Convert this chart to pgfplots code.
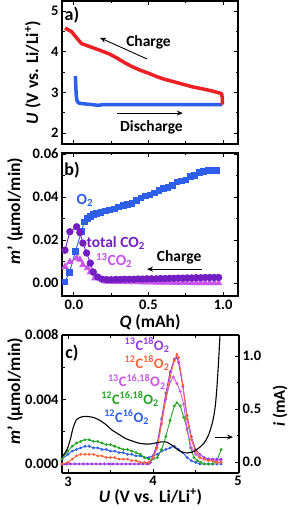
\documentclass[border=0pt]{standalone}
\usepackage{pgfplots}
\pgfplotsset{compat=1.18}
\usepackage{fontspec}
\setmainfont{Carlito}
\usetikzlibrary{arrows.meta}

\definecolor{cRed}{RGB}{236,32,36}
\definecolor{cBlue}{RGB}{45,95,235}
\definecolor{cPurple}{RGB}{115,30,195}
\definecolor{cMag}{RGB}{200,85,235}
\definecolor{cViolet}{RGB}{150,60,230}
\definecolor{cOrange}{RGB}{248,100,60}
\definecolor{cGreen}{RGB}{35,165,35}

\newcommand{\annot}{\fontsize{15.5}{15.5}\selectfont\bfseries}
\newcommand{\clab}{\fontsize{14.5}{14.5}\selectfont\bfseries}

\pgfplotsset{
  base/.style={
    scale only axis,
    axis line style={line width=1.1pt},
    tick align=inside,
    major tick length=4pt,
    minor tick length=2.5pt,
    every tick/.style={line width=0.9pt, black},
    ticklabel style={font=\fontsize{14.5}{14.5}\selectfont\bfseries},
    /pgf/number format/assume math mode=true,
    scaled ticks=false,
    label style={font=\fontsize{17.5}{17.5}\selectfont\bfseries},
    clip mode=individual,
  }
}

\begin{document}
\begin{tikzpicture}
\useasboundingbox (0,0) rectangle (288pt,510pt);

% ---------------- panel a ----------------
\begin{axis}[base, at={(62pt,366pt)}, anchor=south west,
  width=176pt, height=143pt,
  xmin=-0.08, xmax=1.1, ymin=1.73, ymax=5.246,
  xtick={0,0.5,1}, xticklabels={}, minor x tick num=1,
  ytick={2,3,4,5}, minor y tick num=1,
  ylabel={\textit{U} (V vs. Li/Li\textsuperscript{+})},
  ylabel style={at={(axis description cs:-0.165,0.5)}, anchor=center},
]
\addplot[cBlue, line width=3.5pt, line join=round] coordinates {
(0.010,3.40) (0.012,3.20) (0.015,2.95) (0.020,2.80) (0.030,2.74) (0.060,2.72)
(0.120,2.70) (0.160,2.68) (0.200,2.70) (0.400,2.70) (0.600,2.70) (0.800,2.70) (0.995,2.70)
};
\addplot[cRed, line width=3.5pt, line join=round] coordinates {
(0.995,2.70) (0.995,2.85) (0.990,2.97) (0.960,3.00) (0.930,3.03) (0.870,3.08)
(0.800,3.13) (0.730,3.20) (0.670,3.26) (0.600,3.33) (0.560,3.38) (0.500,3.47)
(0.440,3.55) (0.380,3.65) (0.330,3.75) (0.290,3.84) (0.240,3.94) (0.170,4.04)
(0.110,4.12) (0.050,4.20) (0.020,4.33) (0.000,4.42) (-0.015,4.49) (-0.040,4.54) (-0.060,4.58)
};
\draw[-{Stealth[length=6pt,width=5pt]}, line width=0.9pt] (axis cs:0.49,3.82) -- (axis cs:0.175,4.34);
\node[font=\annot] at (axis cs:0.50,4.24) {Charge};
\draw[-{Stealth[length=6pt,width=5pt]}, line width=0.9pt] (axis cs:0.29,2.49) -- (axis cs:0.73,2.49);
\node[font=\annot] at (axis cs:0.52,2.15) {Discharge};
\node[font=\fontsize{18}{18}\selectfont\bfseries] at (axis cs:-0.013,4.9) {a)};
\end{axis}

% ---------------- panel b ----------------
\begin{axis}[base, at={(62pt,214pt)}, anchor=south west,
  width=176pt, height=143pt,
  xmin=-0.08, xmax=1.1, ymin=-0.006, ymax=0.0605,
  xtick={0,0.5,1}, minor x tick num=1,
  ytick={0,0.02,0.04,0.06}, minor y tick num=1,
  xticklabel style={/pgf/number format/.cd, fixed, fixed zerofill, precision=1},
  yticklabel style={/pgf/number format/.cd, fixed, fixed zerofill, precision=2},
  xlabel={\textit{Q} (mAh)},
  xlabel style={at={(axis description cs:0.5,-0.182)}, anchor=center},
  ylabel={\textit{m}' (μmol/min)},
  ylabel style={at={(axis description cs:-0.267,0.594)}, anchor=center},
]
\addplot[cBlue, line width=0.9pt, mark=square*, mark size=2.8pt] coordinates {
(-0.06,0.0005) (-0.03,0.005) (0.01,0.0146) (0.05,0.024) (0.07,0.0285) (0.09,0.030)
(0.11,0.031) (0.13,0.032) (0.15,0.0325) (0.18,0.0328) (0.21,0.0335) (0.24,0.034)
(0.27,0.0345) (0.30,0.0355) (0.33,0.036) (0.36,0.0365) (0.39,0.037) (0.42,0.0385)
(0.45,0.0395) (0.48,0.0405) (0.51,0.041) (0.54,0.042) (0.57,0.043) (0.60,0.044)
(0.63,0.0445) (0.66,0.0455) (0.69,0.047) (0.72,0.0475) (0.75,0.048) (0.78,0.0495)
(0.81,0.050) (0.84,0.0515) (0.87,0.052) (0.90,0.0525) (0.93,0.0525) (0.96,0.0525)
};
\addplot[cMag, line width=0.9pt, mark=triangle*, mark size=3.4pt] coordinates {
(-0.06,0.0076) (-0.027,0.0099) (0.018,0.0116) (0.04,0.011) (0.06,0.0084) (0.09,0.007)
(0.11,0.0051) (0.14,0.0023) (0.19,0.0014) (0.22,0.0008) (0.25,0.0007) (0.28,0.0006)
(0.31,0.0006) (0.34,0.0006) (0.37,0.0005) (0.40,0.0005) (0.43,0.0005) (0.46,0.0004)
(0.49,0.0004) (0.52,0.0004) (0.55,0.0003) (0.58,0.0003) (0.61,0.0003) (0.64,0.0003)
(0.67,0.0002) (0.70,0.0002) (0.73,0.0002) (0.76,0.0002) (0.79,0.0001) (0.82,0.0001)
(0.85,0.0001) (0.88,0.0001) (0.91,0.0000) (0.94,0.0000) (0.97,0.0000)
};
\addplot[cPurple, line width=0.9pt, mark=*, mark size=3.2pt] coordinates {
(-0.06,0.0153) (-0.027,0.0239) (0.018,0.0262) (0.04,0.0235) (0.06,0.0186) (0.085,0.014)
(0.11,0.0093) (0.13,0.0051) (0.16,0.0028) (0.19,0.0018) (0.22,0.0016) (0.25,0.0016)
(0.28,0.0017) (0.31,0.0017) (0.34,0.0018) (0.37,0.0018) (0.40,0.0018) (0.43,0.0019)
(0.46,0.0019) (0.49,0.0020) (0.52,0.0020) (0.55,0.0020) (0.58,0.0021) (0.61,0.0021)
(0.64,0.0022) (0.67,0.0022) (0.70,0.0023) (0.73,0.0023) (0.76,0.0024) (0.79,0.0024)
(0.82,0.0025) (0.85,0.0025) (0.88,0.0026) (0.91,0.0026) (0.94,0.0026) (0.97,0.0026)
};
\node[font=\annot, text=cBlue] at (axis cs:0.074,0.0386) {O\textsubscript{2}};
\node[font=\annot, text=cPurple] at (axis cs:0.28,0.0188) {total CO\textsubscript{2}};
\node[font=\annot, text=cMag] at (axis cs:0.27,0.0106) {\textsuperscript{13}CO\textsubscript{2}};
\node[font=\annot] at (axis cs:0.705,0.0118) {Charge};
\draw[-{Stealth[length=6pt,width=5pt]}, line width=0.9pt] (axis cs:0.86,0.0065) -- (axis cs:0.49,0.0065);
\node[font=\fontsize{18}{18}\selectfont\bfseries] at (axis cs:-0.013,0.0526) {b)};
\end{axis}

% ---------------- panel c ----------------
\begin{axis}[base, at={(62pt,37pt)}, anchor=south west,
  width=177pt, height=138pt,
  xmin=2.93, xmax=5.01, ymin=-0.00056, ymax=0.008,
  axis y line*=left,
  xtick={3,4,5}, minor x tick num=1,
  ytick={0,0.004,0.008}, minor y tick num=1,
  yticklabel style={/pgf/number format/.cd, fixed, fixed zerofill, precision=3},
  xlabel={\textit{U} (V vs. Li/Li\textsuperscript{+})},
  xlabel style={at={(axis description cs:0.5,-0.174)}, anchor=center},
  ylabel={\textit{m}' (μmol/min)},
  ylabel style={at={(axis description cs:-0.266,0.594)}, anchor=center},
  every axis plot/.append style={line width=0.9pt, mark=*, mark size=0.9pt},
]
\addplot[cBlue] coordinates {
(2.93,0.0003) (3.00,0.0006) (3.05,0.0008) (3.10,0.0009) (3.15,0.0010) (3.20,0.0011)
(3.25,0.0011) (3.30,0.0010) (3.35,0.0010) (3.40,0.0009) (3.45,0.0009) (3.50,0.0008)
(3.55,0.0008) (3.60,0.0007) (3.65,0.0007) (3.70,0.0006) (3.75,0.0006) (3.80,0.0005)
(3.85,0.0005) (3.90,0.0004) (3.95,0.0004) (4.00,0.0005) (4.05,0.0006) (4.10,0.0008)
(4.15,0.0009) (4.20,0.0010) (4.25,0.0011) (4.30,0.0009) (4.35,0.0007) (4.40,0.0004)
(4.45,0.0002) (4.50,0.0001) (4.55,0.0000) (4.60,0.0000) (4.65,0.0000) (4.70,0.0000)
(4.75,0.0000) (4.80,0.0000)
};
\addplot[cGreen] coordinates {
(2.93,0.0003) (3.00,0.0008) (3.05,0.0011) (3.10,0.0013) (3.15,0.0014) (3.20,0.0015)
(3.25,0.0015) (3.30,0.0014) (3.35,0.0014) (3.40,0.0013) (3.45,0.0012) (3.50,0.0012)
(3.55,0.0011) (3.60,0.0010) (3.65,0.0009) (3.70,0.0009) (3.75,0.0008) (3.80,0.0007)
(3.85,0.0006) (3.90,0.0004) (3.95,0.0003) (4.00,0.0003) (4.05,0.0004) (4.10,0.0009)
(4.15,0.0017) (4.20,0.0027) (4.25,0.0036) (4.28,0.0038) (4.32,0.0036) (4.36,0.0029)
(4.40,0.0022) (4.44,0.0010) (4.48,0.0004) (4.52,0.0002) (4.56,0.0001) (4.60,0.0000)
(4.65,0.0000) (4.70,0.0000) (4.75,0.0002) (4.80,0.0009)
};
\addplot[cMag] coordinates {
(2.93,0.0000) (3.00,0.0000) (3.50,0.0000) (3.95,0.0000) (4.00,0.0004) (4.05,0.0012)
(4.10,0.0025) (4.15,0.0040) (4.20,0.0051) (4.24,0.0054) (4.28,0.0050) (4.32,0.0045)
(4.36,0.0037) (4.40,0.0021) (4.45,0.0010) (4.50,0.0006) (4.55,0.0004) (4.60,0.0003)
(4.65,0.0003) (4.70,0.0002) (4.75,0.0002) (4.80,0.0002)
};
\addplot[cViolet] coordinates {
(2.93,0) (2.98,0) (3.03,0) (3.08,0) (3.13,0) (3.18,0) (3.23,0) (3.28,0) (3.33,0)
(3.38,0) (3.43,0) (3.48,0) (3.53,0) (3.58,0) (3.63,0) (3.68,0) (3.73,0) (3.78,0)
(3.83,0) (3.88,0) (3.93,0) (3.97,0.0001)
(4.00,0.0005) (4.05,0.0013) (4.10,0.0028) (4.15,0.0044) (4.20,0.0057) (4.25,0.0065)
(4.28,0.0066) (4.30,0.0063) (4.35,0.0048) (4.40,0.0030) (4.45,0.0017) (4.50,0.0009)
(4.55,0.0006) (4.60,0.0004) (4.65,0.0003) (4.70,0.0003) (4.75,0.0003) (4.80,0.0003)
};
\addplot[cOrange] coordinates {
(2.93,0.0000) (3.00,0.0001) (3.05,0.0003) (3.10,0.0005) (3.15,0.0006) (3.20,0.0006)
(3.25,0.0006) (3.30,0.0006) (3.35,0.0005) (3.40,0.0005) (3.45,0.0004) (3.50,0.0004)
(3.55,0.0004) (3.60,0.0003) (3.65,0.0003) (3.70,0.0003) (3.75,0.0002) (3.80,0.0002)
(3.85,0.0001) (3.90,0.0001) (3.95,0.0001) (4.00,0.0004) (4.05,0.0010) (4.10,0.0025)
(4.15,0.0041) (4.20,0.0054) (4.25,0.0064) (4.28,0.0068) (4.30,0.0066) (4.35,0.0049)
(4.40,0.0028) (4.45,0.0015) (4.50,0.0008) (4.55,0.0004) (4.60,0.0003) (4.65,0.0002)
(4.70,0.0002) (4.75,0.0001) (4.80,0.0001)
};
\node[font=\clab, text=cViolet] at (axis cs:3.93,0.00738) {\textsuperscript{13}C\textsuperscript{18}O\textsubscript{2}};
\node[font=\clab, text=cOrange] at (axis cs:3.93,0.00626) {\textsuperscript{12}C\textsuperscript{18}O\textsubscript{2}};
\node[font=\clab, text=cMag] at (axis cs:3.81,0.00509) {\textsuperscript{13}C\textsuperscript{16,18}O\textsubscript{2}};
\node[font=\clab, text=cGreen] at (axis cs:3.73,0.00403) {\textsuperscript{12}C\textsuperscript{16,18}O\textsubscript{2}};
\node[font=\clab, text=cBlue] at (axis cs:3.69,0.00291) {\textsuperscript{12}C\textsuperscript{16}O\textsubscript{2}};
\node[font=\fontsize{18}{18}\selectfont\bfseries] at (axis cs:3.047,0.00688) {c)};
\draw[-{Stealth[length=6pt,width=5pt]}, line width=0.9pt] (axis cs:4.73,0.00167) -- (axis cs:4.94,0.00167);
\end{axis}

\begin{axis}[base, at={(62pt,37pt)}, anchor=south west,
  width=177pt, height=138pt,
  xmin=2.93, xmax=5.01, ymin=-0.104, ymax=1.198,
  axis y line*=right, axis x line=none,
  ytick={0,0.5,1}, minor y tick num=1,
  yticklabel style={/pgf/number format/.cd, fixed, fixed zerofill, precision=1},
  ylabel={\textit{i} (mA)},
  ylabel style={at={(axis description cs:1.232,0.486)}, anchor=center, font=\fontsize{16.5}{16.5}\selectfont\bfseries},
]
\addplot[black, line width=1.1pt, smooth] coordinates {
(2.93,0.05) (2.97,0.09) (3.00,0.14) (3.03,0.22) (3.06,0.32) (3.10,0.40) (3.14,0.42)
(3.20,0.43) (3.30,0.42) (3.38,0.39) (3.45,0.35) (3.52,0.30) (3.60,0.26) (3.68,0.22)
(3.75,0.20) (3.82,0.18) (3.90,0.17) (3.97,0.17) (4.03,0.18) (4.10,0.19) (4.15,0.19)
(4.20,0.17) (4.25,0.14) (4.30,0.11) (4.35,0.09) (4.40,0.085) (4.45,0.09) (4.50,0.11)
(4.55,0.14) (4.60,0.18) (4.65,0.25) (4.70,0.38) (4.73,0.52) (4.75,0.70) (4.77,0.95) (4.79,1.25)
};
\end{axis}
\end{tikzpicture}
\end{document}
